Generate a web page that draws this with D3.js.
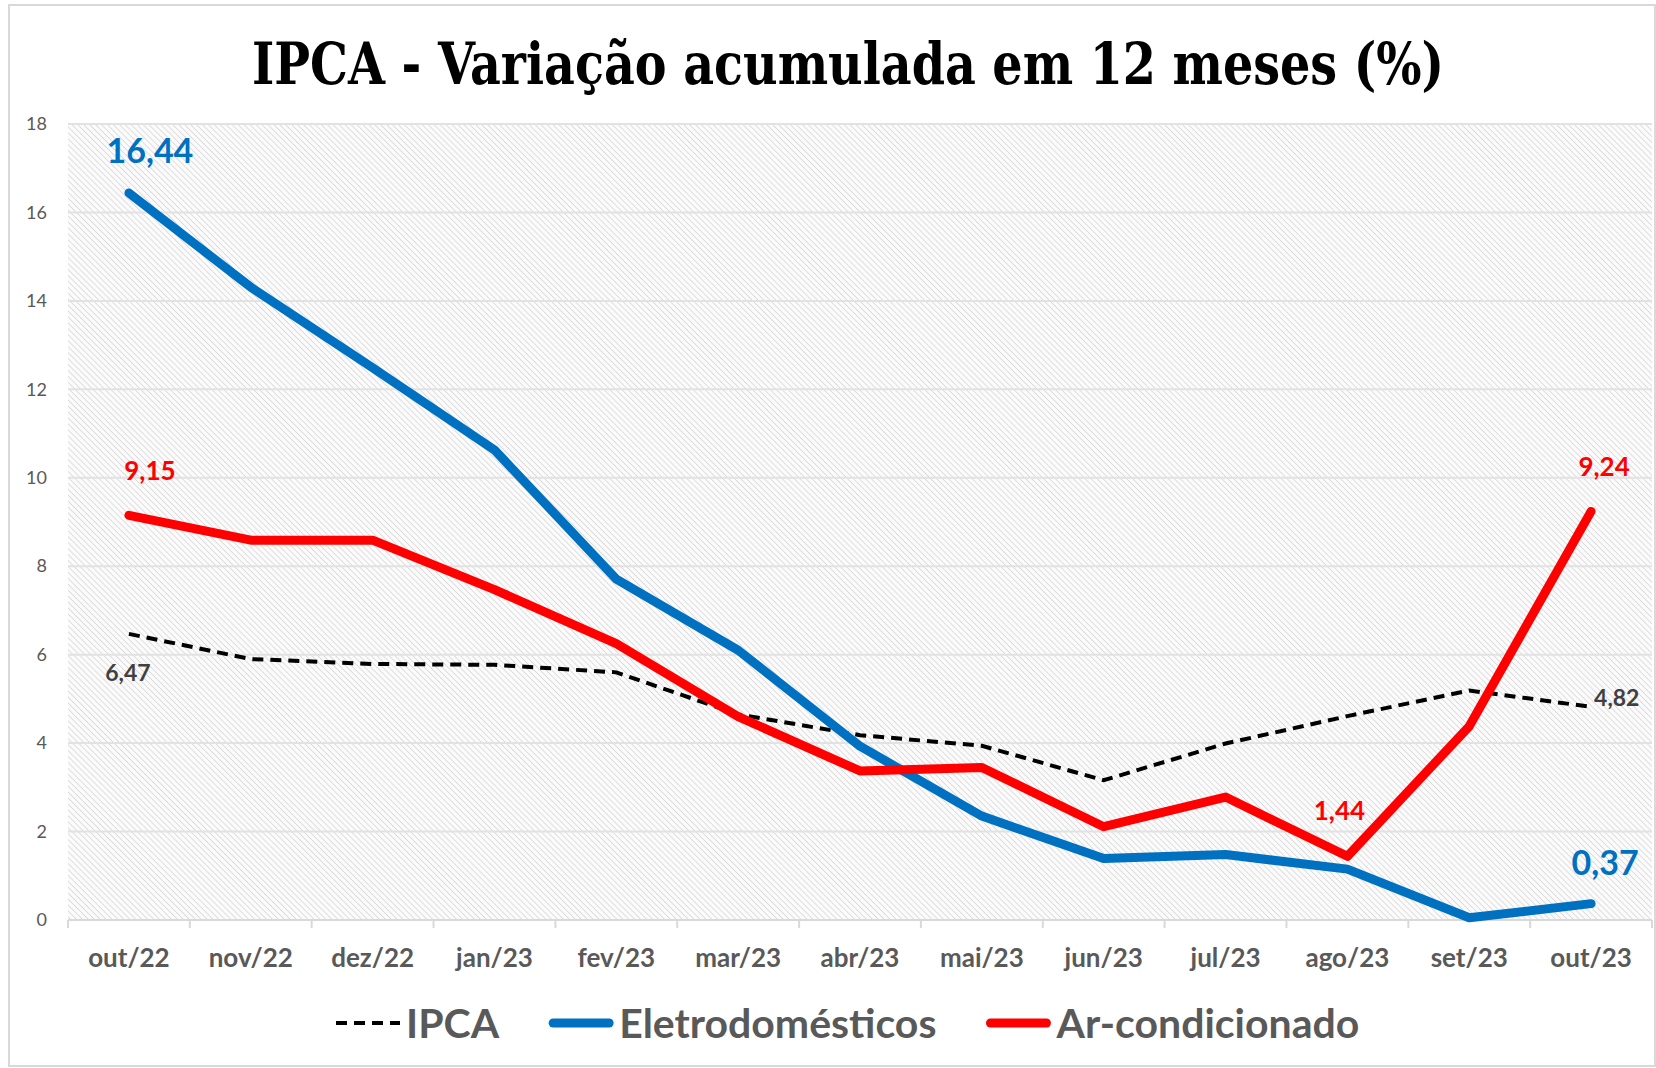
<!DOCTYPE html>
<html><head><meta charset="utf-8">
<script src="https://cdn.jsdelivr.net/npm/d3@7"></script>
<style>html,body{margin:0;padding:0;background:#fff;}svg{display:block;}</style>
</head><body>
<svg id="chart" width="1656" height="1068"></svg>
<script>
const categories = ["out/22","nov/22","dez/22","jan/23","fev/23","mar/23","abr/23","mai/23","jun/23","jul/23","ago/23","set/23","out/23"];
const ipca = [6.47,5.90,5.79,5.77,5.60,4.65,4.18,3.94,3.16,3.99,4.61,5.19,4.82];
const eletro = [16.44,14.31,12.49,10.63,7.71,6.10,3.93,2.35,1.39,1.48,1.15,0.05,0.37];
const arcond = [9.15,8.59,8.59,7.47,6.25,4.60,3.37,3.45,2.11,2.78,1.44,4.38,9.24];
const yTicks = [0,2,4,6,8,10,12,14,16,18];
const title = "IPCA - Variação acumulada em 12 meses (%)";
const seriesNames = ["IPCA","Eletrodomésticos","Ar-condicionado"];

const svg = d3.select("#chart");
const W = 1656, H = 1068;
const L = 68, R = 1652, T = 124, B = 920;

// outer border
svg.append("rect").attr("x",9).attr("y",5).attr("width",W-10).attr("height",H-7)
  .attr("fill","#fff").attr("stroke","#d9d9d9").attr("stroke-width",2);

// hatch pattern
const defs = svg.append("defs");
const pat = defs.append("pattern").attr("id","hatch").attr("patternUnits","userSpaceOnUse")
  .attr("width",4.2).attr("height",4.2).attr("patternTransform","rotate(-45)");
pat.append("rect").attr("width",4.2).attr("height",4.2).attr("fill","#fbfbfb");
pat.append("line").attr("x1",0).attr("y1",0).attr("x2",0).attr("y2",4.2)
  .attr("stroke","#d0d0d0").attr("stroke-width",1.3);

const x = d3.scaleBand().domain(categories).range([L,R]).padding(0);
const y = d3.scaleLinear().domain([0,18]).range([B,T]);
const cx = c => x(c) + x.bandwidth()/2;

svg.append("rect").attr("x",L).attr("y",T).attr("width",R-L).attr("height",B-T).attr("fill","url(#hatch)");

// gridlines
svg.append("g").selectAll("line").data(yTicks.filter(d=>d>0)).join("line")
  .attr("x1",L).attr("x2",R).attr("y1",d=>y(d)).attr("y2",d=>y(d))
  .attr("stroke","#e2e2e2").attr("stroke-width",2);

// y axis
const yAxis = svg.append("g").attr("transform",`translate(${L},0)`)
  .call(d3.axisLeft(y).tickValues(yTicks).tickSize(0).tickPadding(21).tickFormat(d3.format("d")));
yAxis.select(".domain").remove();
yAxis.selectAll("text").attr("font-family","Lato, 'Open Sans', sans-serif").attr("font-size",18).attr("fill","#595959");

// x axis
svg.append("line").attr("x1",L).attr("x2",R).attr("y1",B).attr("y2",B).attr("stroke","#d9d9d9").attr("stroke-width",2);
const bounds = categories.map(c=>x(c)).concat([R]);
svg.append("g").selectAll("line").data(bounds).join("line")
  .attr("x1",d=>d).attr("x2",d=>d).attr("y1",B).attr("y2",B+8).attr("stroke","#d9d9d9").attr("stroke-width",2);
const xAxis = svg.append("g").attr("transform",`translate(0,${B})`)
  .call(d3.axisBottom(x).tickSize(0).tickPadding(0));
xAxis.select(".domain").remove();
xAxis.selectAll("text").attr("y",47).attr("dy",0)
  .attr("font-family","Lato, 'Open Sans', sans-serif").attr("font-weight","bold").attr("font-size",26).attr("fill","#595959");

// lines
const line = d3.line().x((d,i)=>cx(categories[i])).y(d=>y(d));
svg.append("path").datum(ipca).attr("d",line).attr("fill","none").attr("stroke","#000")
  .attr("stroke-width",4).attr("stroke-dasharray","11,7");
svg.append("path").datum(eletro).attr("d",line).attr("fill","none").attr("stroke","#0070C0")
  .attr("stroke-width",9).attr("stroke-linejoin","round").attr("stroke-linecap","round");
svg.append("path").datum(arcond).attr("d",line).attr("fill","none").attr("stroke","#FF0000")
  .attr("stroke-width",9).attr("stroke-linejoin","round").attr("stroke-linecap","round");

// data labels
const fmt = v => d3.format(".2f")(v).replace(".",",");
const n = categories.length-1;
function label(v, i, dx, dy, color, size, anchor){
  svg.append("text").attr("x",cx(categories[i])+dx).attr("y",y(v)+dy)
    .attr("text-anchor",anchor||"middle").attr("font-family","Lato, 'Open Sans', sans-serif")
    .attr("font-weight","bold").attr("font-size",size).attr("fill",color).text(fmt(v));
}
label(eletro[0],0,21,-30,"#0070C0",34);
label(eletro[n],n,14,-29,"#0070C0",34);
label(arcond[0],0,21,-35,"#FF0000",26);
label(arcond[n],n,13,-35,"#FF0000",26);
label(arcond[10],10,-8,-36,"#FF0000",26);
label(ipca[0],0,-1,47,"#404040",23);
label(ipca[n],n,3,-1,"#404040",23,"start");

// title
svg.append("text").attr("x",848).attr("y",84).attr("text-anchor","middle")
  .attr("font-family","'DejaVu Serif Condensed','DejaVu Serif',serif").attr("font-weight","bold")
  .attr("font-size",58).attr("fill","#000")
  .attr("textLength",1192).attr("lengthAdjust","spacingAndGlyphs").text(title);

// legend
const legend = [
  {name:seriesNames[0], color:"#000", w:4, dash:"11,7", cap:"butt"},
  {name:seriesNames[1], color:"#0070C0", w:9, dash:null, cap:"round"},
  {name:seriesNames[2], color:"#FF0000", w:9, dash:null, cap:"round"}
];
let lx = 336; const ly = 1023;
legend.forEach((d,i)=>{
  const g = svg.append("g");
  const x0 = d.cap==="round" ? lx+4 : lx;
  const x1 = d.cap==="round" ? lx+60 : lx+64;
  g.append("line").attr("x1",x0).attr("x2",x1).attr("y1",ly).attr("y2",ly)
    .attr("stroke",d.color).attr("stroke-width",d.w).attr("stroke-linecap",d.cap)
    .attr("stroke-dasharray",d.dash);
  const t = g.append("text").attr("x",lx+70).attr("y",ly+15)
    .attr("font-family","Lato, 'Open Sans', sans-serif").attr("font-weight","bold")
    .attr("font-size",41).attr("fill","#595959").text(d.name);
  lx = lx + 70 + t.node().getComputedTextLength() + 50;
});
</script>
</body></html>
